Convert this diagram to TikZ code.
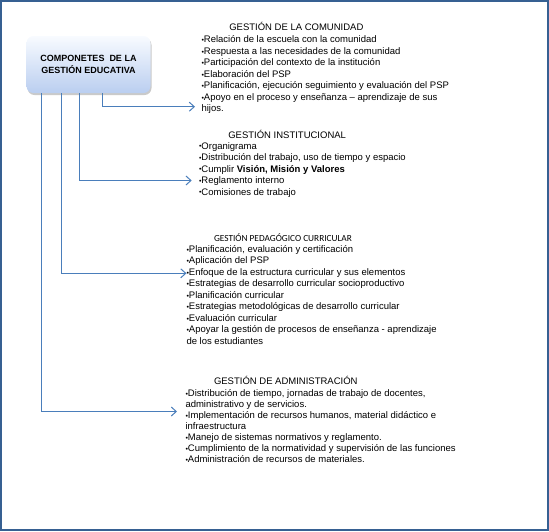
\documentclass[tikz,border=0pt]{standalone}
\usepackage{fontspec}
\usepackage{graphicx}
\setmainfont{Liberation Sans}
\newfontfamily\calib{Carlito}
\usetikzlibrary{arrows.meta,shadows}
\definecolor{framec}{RGB}{54,96,146}
\definecolor{connc}{RGB}{74,126,187}
\definecolor{boxtop}{RGB}{248,251,255}
\definecolor{boxbot}{RGB}{186,206,240}
\newcommand\bul{\raisebox{0.1pt}{\fontsize{7}{7}\selectfont •}}
\newcommand\fr{\rule{0pt}{10pt}}
\begin{document}
\begin{tikzpicture}[x=1pt,y=-1pt,
  every node/.style={inner sep=0pt, outer sep=0pt},
  framebox/.style={draw=framec, line width=2pt},
  compbox/.style={rounded corners=7pt, top color=boxtop, bottom color=boxbot,
     minimum width=124pt, minimum height=57pt, align=center,
     font=\fontsize{9}{12.4}\selectfont\bfseries,
     drop shadow={shadow xshift=1pt, shadow yshift=-2pt, opacity=0.35, fill=black!60}},
  conn/.style={draw=connc, line width=1pt, -{Straight Barb[length=5pt,width=9pt,line width=1pt]}},
  title/.style={anchor=base west, font=\fontsize{9.5}{11.5}\selectfont},
  titlec/.style={anchor=base west, font=\calib\fontsize{9.3}{11.5}\selectfont},
  items/.style={anchor=north west, align=left, font=\fontsize{9.5}{11.5}\selectfont},
]
\useasboundingbox (0,0) rectangle (549,531);
\draw[framebox] (1,1) rectangle (548,530);

\node[compbox] (box) at (88.5,64.5) {COMPONETES\ \ DE LA\\GESTIÓN EDUCATIVA};

% Gestión de la comunidad
\node[title] (t1) at (229.3,30) {GESTIÓN DE LA COMUNIDAD};
\node[items] (b1) at (201.5,32.8) {\fr\bul Relación de la escuela con la comunidad\\
\bul Respuesta a las necesidades de la comunidad\\
\bul Participación del contexto de la institución\\
\bul Elaboración del PSP\\
\bul Planificación, ejecución seguimiento y evaluación del PSP\\
\bul Apoyo en el proceso y enseñanza – aprendizaje de sus\\
hijos.};

% Gestión institucional
\node[title] (t2) at (228.3,138.4) {GESTIÓN INSTITUCIONAL};
\node[items] (b2) at (199,139) {\fr\bul Organigrama\\
\bul Distribución del trabajo, uso de tiempo y espacio\\
\bul Cumplir \textbf{Visión, Misión y Valores}\\
\bul Reglamento interno\\
\bul Comisiones de trabajo};

% Gestión pedagógico curricular
\node[titlec] (t3) at (214,241) {GESTIÓN PEDAGÓGICO CURRICULAR};
\node[items] (b3) at (186.5,242.3) {\fr\bul Planificación, evaluación y certificación\\
\bul Aplicación del PSP\\
\bul Enfoque de la estructura curricular y sus elementos\\
\bul Estrategias de desarrollo curricular socioproductivo\\
\bul Planificación curricular\\
\bul Estrategias metodológicas de desarrollo curricular\\
\bul Evaluación curricular\\
\bul Apoyar la gestión de procesos de enseñanza - aprendizaje\\
de los estudiantes};

% Gestión de administración
\node[title] (t4) at (214,384.4) {GESTIÓN DE ADMINISTRACIÓN};
\node[items, font=\fontsize{9.5}{11}\selectfont] (b4) at (185.5,386.3) {\fr\bul Distribución de tiempo, jornadas de trabajo de docentes,\\
administrativo y de servicios.\\
\bul Implementación de recursos humanos, material didáctico e\\
infraestructura\\
\bul Manejo de sistemas normativos y reglamento.\\
\bul Cumplimiento de la normatividad y supervisión de las funciones\\
\bul Administración de recursos de materiales.};

% connectors
\coordinate (a1) at (102.7,0);
\coordinate (a2) at (79,0);
\coordinate (a3) at (61,0);
\coordinate (a4) at (41.7,0);
\coordinate (e1) at (195,106.7);
\coordinate (e2) at (191.7,180.5);
\coordinate (e3) at (186.5,273.3);
\coordinate (e4) at (177,411.5);
\draw[conn] (box.south -| a1) |- (e1);
\draw[conn] (box.south -| a2) |- (e2);
\draw[conn] (box.south -| a3) |- (e3);
\draw[conn] (box.south -| a4) |- (e4);
\end{tikzpicture}
\end{document}
